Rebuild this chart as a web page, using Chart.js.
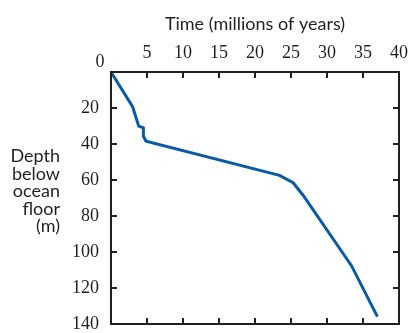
<!DOCTYPE html>
<html>
<head>
<meta charset="utf-8">
<script src="https://cdn.jsdelivr.net/npm/chart.js@4/dist/chart.umd.min.js"></script>
<style>
  html, body { margin: 0; padding: 0; background: #fff; }
  #wrap { width: 409px; height: 333px; position: relative; }
</style>
</head>
<body>
<div id="wrap"><canvas id="depthChart"></canvas></div>
<script>
// sediment depth against age
const timeMyr = [0, 3.0, 3.85, 4.5, 4.5, 4.87, 23.4, 25.3, 26.7, 33.4, 37.0];
const depthM = [0, 19.3, 30.1, 31, 35.7, 38.5, 57.4, 61.5, 68.6, 107.6, 135.9];
const timeTicks = [0, 5, 10, 15, 20, 25, 30, 35, 40];
const depthTicks = [0, 20, 40, 60, 80, 100, 120, 140];
const depthTitle = ['Depth', 'below', 'ocean', 'floor', '(m)'];

const ink = '#231f20';
const tickFont = { family: "'Liberation Serif', serif", size: 18 };
const labelFont = { family: "Lato, sans-serif", size: 18 };

const points = timeMyr.map((t, i) => ({ x: t, y: depthM[i] }));

// box round the plot with short inward ticks on every side
const framePlugin = {
  id: 'frame',
  afterDraw(chart) {
    const { ctx, chartArea: a, scales } = chart;
    const len = 6;
    ctx.save();
    ctx.strokeStyle = ink;
    ctx.lineWidth = 2;
    ctx.strokeRect(a.left, a.top, a.right - a.left, a.bottom - a.top);
    ctx.beginPath();
    timeTicks.forEach(v => {
      const px = scales.x.getPixelForValue(v);
      ctx.moveTo(px, a.top); ctx.lineTo(px, a.top + len);
      ctx.moveTo(px, a.bottom); ctx.lineTo(px, a.bottom - len);
    });
    depthTicks.forEach(v => {
      const py = scales.y.getPixelForValue(v);
      ctx.moveTo(a.left, py); ctx.lineTo(a.left + len, py);
      ctx.moveTo(a.right, py); ctx.lineTo(a.right - len, py);
    });
    ctx.stroke();

    // shared zero in the corner
    ctx.fillStyle = ink;
    ctx.font = tickFont.size + 'px ' + tickFont.family;
    ctx.textAlign = 'center';
    ctx.textBaseline = 'middle';
    ctx.fillText('0', a.left - 11, a.top - 10);

    // depth title, right aligned, one word per line
    ctx.font = labelFont.size + 'px ' + labelFont.family;
    ctx.textAlign = 'right';
    ctx.textBaseline = 'alphabetic';
    depthTitle.forEach((line, i) => {
      ctx.fillText(line, 60, 162 + i * 17.6);
    });
    ctx.restore();
  }
};

new Chart(document.getElementById('depthChart'), {
  type: 'line',
  data: {
    datasets: [{
      data: points,
      borderColor: '#0a5aa6',
      borderWidth: 3,
      pointRadius: 0,
      tension: 0,
      fill: false,
      clip: false
    }]
  },
  options: {
    responsive: true,
    maintainAspectRatio: false,
    animation: false,
    layout: { padding: { left: 0, right: 10, top: 0, bottom: 9 } },
    plugins: { legend: { display: false }, tooltip: { enabled: false } },
    scales: {
      x: {
        type: 'linear',
        position: 'top',
        min: 0,
        max: 40,
        afterBuildTicks: s => { s.ticks = timeTicks.map(v => ({ value: v })); },
        afterFit: s => { s.height = 72; s.paddingLeft = 0; s.paddingRight = 0; },
        grid: { display: false, drawTicks: false },
        border: { display: false },
        ticks: {
          color: ink,
          font: tickFont,
          padding: 8,
          maxRotation: 0,
          callback: v => (v === 0 ? '' : v)
        },
        title: {
          display: true,
          text: 'Time (millions of years)',
          color: ink,
          font: labelFont,
          padding: { top: 13, bottom: 4 }
        }
      },
      y: {
        type: 'linear',
        reverse: true,
        min: 0,
        max: 140,
        afterBuildTicks: s => { s.ticks = depthTicks.map(v => ({ value: v })); },
        afterFit: s => { s.width = 111; s.paddingTop = 0; s.paddingBottom = 0; },
        grid: { display: false, drawTicks: false },
        border: { display: false },
        ticks: {
          color: ink,
          font: tickFont,
          padding: 12,
          callback: v => (v === 0 ? '' : v)
        }
      }
    }
  },
  plugins: [framePlugin]
});
</script>
</body>
</html>
